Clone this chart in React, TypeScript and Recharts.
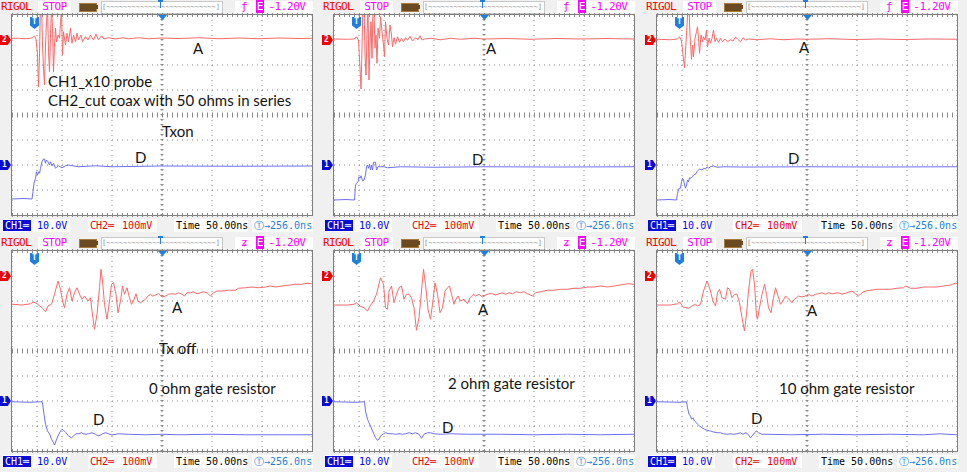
import { LineChart, Line, XAxis, YAxis, CartesianGrid, ReferenceLine } from "recharts";

type Pt = [number, number];

// time in ns relative to trigger: 50ns/div, 12 div, trigger offset 256ns
const timeTicks = [-44, 6, 56, 106, 156, 206, 256, 306, 356, 406, 456, 506, 556];
// CH2: 100mV/div, marker at +3 div  -> screen -700..100 mV
const ch2Ticks = [-700, -600, -500, -400, -300, -200, -100, 0, 100];
// CH1: 10V/div, marker at -2 div -> screen -20..60 V
const ch1Ticks = [-20, -10, 0, 10, 20, 30, 40, 50, 60];

// ---- Tx on (top row), CH2 in mV ----
const onR0Ch2: Pt[] = [
  [-44, 7], [-31, 7], [-17, 5], [-7, 7], [-3, 9], [1, 17], [4, 4], [7, -60], [9, -187], [11, -60],
  [13, 150], [15, 150], [17, -20], [19, -113], [21, -180], [23, -20], [25, 73], [27, 140], [29, -47],
  [31, -127], [33, 20], [35, 130], [37, 47], [39, -127], [41, -20], [43, 47], [45, -7], [48, 20], [51, 7],
  [53, 73], [55, 120], [57, -60], [59, 33], [63, -20], [66, 27], [69, -7], [73, 47], [76, -13], [79, 20],
  [83, -7], [86, 27], [89, 0], [94, 20], [97, -7], [103, 13], [108, 0], [113, 20], [119, 0], [124, 23],
  [129, 1], [135, 17], [140, 4], [149, 9], [163, 4], [176, 9], [189, 5], [209, 9], [229, 5], [256, 8],
  [290, 6], [330, 9], [370, 5], [410, 8], [450, 5], [490, 8], [530, 6], [556, 7],
];
const onR2Ch2: Pt[] = [
  [-44, 4], [-17, 3], [-3, 4], [1, 13], [5, 0], [8, -113], [10, -196], [12, -33], [14, 150], [16, 150],
  [18, -60], [20, -140], [22, 20], [24, 130], [26, -160], [28, -20], [30, 73], [32, -73], [34, 130],
  [36, 120], [38, -33], [40, 20], [42, -93], [44, 47], [47, 7], [49, 93], [52, 33], [55, -20], [57, -67],
  [59, 73], [62, 7], [65, -20], [68, 60], [71, 20], [73, -27], [76, 9], [79, -17], [83, 13], [87, -9],
  [91, 7], [95, -7], [99, 9], [103, -1], [108, 15], [113, -4], [119, 9], [124, 1], [128, 17], [132, 0],
  [137, 4], [149, 7], [169, 1], [189, 7], [209, 3], [236, 7], [256, 4], [300, 6], [350, 3], [400, 6],
  [450, 4], [500, 6], [556, 4],
];
const onR10Ch2: Pt[] = [
  [-44, 3], [-17, 1], [-3, 4], [1, 13], [5, -4], [8, -60], [11, -111], [13, -47], [16, 60], [18, 130],
  [20, 130], [22, 20], [25, -77], [27, -20], [29, -67], [32, 7], [35, 33], [37, 53], [39, 7], [41, -53],
  [44, 20], [47, -7], [49, 13], [52, 0], [55, 40], [57, -27], [60, 7], [63, -13], [66, 7], [69, 40],
  [72, -7], [75, 7], [79, -9], [83, 7], [87, -7], [92, 4], [97, -7], [103, 1], [108, -4], [113, 12],
  [117, 4], [123, -7], [128, 9], [133, 0], [139, 4], [156, 1], [183, 5], [209, 1], [236, 4], [256, 3],
  [300, 5], [350, 2], [400, 4], [450, 2], [500, 4], [556, 3],
];

// ---- Tx on, CH1 in V ----
const onR0Ch1: Pt[] = [
  [-44, -13.6], [-20, -13.4], [-4, -13.6], [-2, -10.7], [0, -7.3], [3, -5.3], [5, -2.7], [7, -4], [9, -2.7],
  [11, -3.3], [13, -1.3], [16, 1.3], [19, 2.4], [21, 2.4], [23, 0.7], [25, 2], [28, 1.3], [31, 0], [33, 1.3],
  [36, -0.3], [39, 0.7], [43, -1.3], [46, -0.7], [49, -0.3], [56, -1.1], [63, -0.3], [69, 0], [89, -0.7],
  [123, -0.3], [156, -0.7], [256, -0.4], [400, -0.5], [556, -0.4],
];
const onR2Ch1: Pt[] = [
  [-44, -14], [-20, -13.8], [-3, -14], [-1, -8], [1, -7.3], [4, -6.7], [6, -4.7], [8, -5.3], [10, -4.3],
  [13, -6.3], [16, -6], [19, -4], [21, -0.7], [23, 0], [25, -1.3], [27, 0.3], [29, -2], [31, 0], [33, -2],
  [35, 1.1], [39, 1.1], [41, -2], [44, -0.7], [49, -0.7], [56, -0.7], [63, -1.1], [89, -0.7], [156, -0.9],
  [256, -0.7], [400, -0.8], [556, -0.7],
];
const onR10Ch1: Pt[] = [
  [-44, -14], [-20, -13.8], [-5, -14], [-3, -11.3], [0, -9.3], [3, -9.3], [5, -6.7], [7, -5.3], [9, -6],
  [11, -8], [13, -9.3], [15, -8], [17, -6], [19, -6.7], [21, -5.1], [24, -5.3], [27, -4.7], [29, -4],
  [33, -3.7], [36, -2.7], [39, -2], [41, -1.6], [46, -2], [49, -1.3], [53, -1.6], [56, -0.7], [59, -1.3],
  [63, -0.7], [69, -0.4], [76, -0.9], [89, -0.7], [123, -0.8], [156, -0.8], [256, -0.7], [400, -0.8], [556, -0.7],
];

// ---- Tx off (bottom row), CH2 in mV ----
const offR0Ch2: Pt[] = [
  [-44, -113], [-24, -116], [-7, -111], [-1, -104], [6, -111], [16, -127], [23, -143], [28, -120], [35, -113],
  [41, -73], [48, -20], [53, -53], [57, -100], [61, -127], [66, -73], [71, -47], [76, -100], [81, -67],
  [86, -47], [91, -73], [96, -93], [101, -80], [108, -100], [113, -87], [116, -140], [121, -213], [126, -153],
  [131, -47], [134, 27], [137, -20], [141, -113], [146, -173], [151, -100], [155, -33], [159, -27], [164, -73],
  [168, -147], [173, -100], [177, -40], [181, -73], [186, -47], [191, -87], [195, -113], [199, -100],
  [204, -71], [208, -100], [213, -107], [218, -100], [223, -93], [228, -80], [233, -73], [237, -80],
  [243, -76], [249, -71], [256, -84], [263, -80], [269, -73], [276, -71], [283, -73], [289, -67], [296, -73],
  [301, -80], [306, -67], [313, -67], [319, -63], [326, -71], [333, -67], [339, -63], [346, -67], [353, -80],
  [359, -67], [366, -60], [376, -60], [389, -57], [403, -57], [409, -49], [423, -47], [436, -44], [449, -47],
  [463, -44], [473, -40], [483, -44], [496, -40], [509, -37], [523, -33], [536, -33], [546, -29], [556, -31],
];
const offR2Ch2: Pt[] = [
  [-44, -116], [-17, -116], [-4, -113], [1, -107], [8, -120], [16, -127], [23, -140], [28, -120], [35, -100],
  [41, -73], [49, -7], [55, -33], [59, -127], [63, -133], [66, -60], [71, -40], [76, -107], [81, -73],
  [86, -47], [91, -40], [96, -93], [101, -73], [106, -73], [111, -87], [116, -127], [121, -217], [126, -167],
  [131, -60], [135, 27], [139, -33], [144, -133], [149, -173], [153, -113], [158, -27], [163, -73],
  [168, -147], [173, -127], [178, -60], [183, -47], [187, -40], [191, -73], [196, -113], [200, -93],
  [204, -80], [209, -100], [216, -93], [223, -111], [228, -87], [235, -73], [239, -80], [246, -73],
  [253, -84], [259, -76], [266, -71], [273, -71], [279, -76], [286, -71], [293, -67], [299, -73], [306, -67],
  [313, -71], [321, -63], [329, -67], [336, -63], [343, -71], [353, -80], [359, -67], [369, -63], [383, -57],
  [396, -57], [409, -53], [423, -53], [436, -49], [449, -49], [463, -44], [476, -44], [489, -40], [503, -44],
  [516, -40], [529, -36], [543, -31], [556, -33],
];
const offR10Ch2: Pt[] = [
  [-44, -116], [-17, -116], [-3, -111], [1, -103], [8, -124], [19, -129], [26, -120], [33, -113], [37, -120],
  [43, -113], [49, -60], [56, -20], [61, -47], [68, -100], [73, -120], [77, -67], [81, -53], [86, -87],
  [93, -93], [97, -47], [101, -53], [106, -87], [111, -73], [116, -73], [121, -107], [126, -167], [131, -220],
  [135, -153], [139, -60], [144, 20], [147, 27], [151, -33], [155, -160], [157, -173], [161, -127],
  [166, -73], [171, -33], [175, -73], [179, -127], [184, -147], [189, -87], [193, -47], [197, -73],
  [203, -113], [208, -100], [213, -80], [217, -87], [223, -100], [226, -107], [231, -93], [235, -87],
  [239, -80], [246, -84], [253, -80], [259, -73], [266, -80], [273, -73], [279, -71], [286, -67], [293, -73],
  [299, -67], [306, -71], [319, -67], [326, -73], [336, -67], [346, -60], [353, -71], [359, -80], [366, -67],
  [373, -60], [383, -57], [396, -53], [409, -53], [423, -53], [436, -49], [449, -47], [453, -40], [463, -49],
  [476, -49], [489, -44], [503, -44], [516, -44], [529, -40], [543, -36], [553, -29], [556, -31],
];

// ---- Tx off, CH1 in V ----
const offR0Ch1: Pt[] = [
  [-44, -0.3], [-10, -0.5], [16, -0.3], [17, -0.7], [20, -5.3], [23, -9.3], [27, -12], [31, -13.1],
  [35, -15.3], [39, -16.7], [41, -17.6], [44, -16], [48, -14], [53, -12], [56, -11.3], [59, -11.7],
  [64, -12.7], [69, -14], [75, -14.7], [79, -14], [84, -13.1], [89, -13.1], [95, -12.7], [99, -13.1],
  [104, -13.3], [109, -13.1], [116, -12.7], [123, -13.3], [128, -14], [133, -13.6], [137, -13.1],
  [143, -12.7], [149, -13.1], [156, -13.6], [169, -13.1], [189, -13.3], [223, -13.5], [256, -13.3],
  [289, -13.5], [356, -13.3], [423, -13.5], [489, -13.5], [556, -13.5],
];
const offR2Ch1: Pt[] = [
  [-44, -0.3], [0, -0.5], [17, -0.3], [19, -4], [23, -7.3], [26, -8.7], [29, -10], [33, -12], [36, -13.3],
  [39, -14.7], [43, -15.7], [46, -15.3], [49, -14], [55, -13.1], [59, -12.7], [66, -13.1], [73, -13.1],
  [79, -13.3], [86, -13.1], [93, -13.3], [99, -13.1], [106, -12.7], [113, -13.1], [119, -12.7], [126, -13.3],
  [131, -14.9], [136, -13.3], [143, -12.7], [149, -12.7], [156, -13.1], [169, -13.3], [189, -13.1],
  [223, -13.3], [289, -13.3], [356, -13.5], [423, -13.3], [489, -13.5], [556, -13.3],
];
const offR10Ch1: Pt[] = [
  [-44, -0.3], [0, -0.5], [15, -0.3], [17, -2.7], [20, -5.3], [23, -6], [25, -7.3], [28, -6.7], [31, -8],
  [35, -8.7], [37, -9.3], [41, -10], [46, -10.7], [51, -11.3], [56, -11.7], [63, -12], [69, -12.4],
  [76, -12.7], [83, -12.7], [89, -13.1], [96, -13.3], [103, -13.1], [109, -13.3], [116, -13.1], [123, -12.7],
  [128, -13.3], [133, -12.7], [137, -13.1], [143, -14.7], [146, -14], [151, -12.7], [155, -12], [159, -12.7],
  [166, -13.3], [176, -13.3], [223, -13.5], [289, -13.3], [356, -13.5], [423, -13.3], [489, -13.5],
  [523, -13.1], [536, -13.3], [556, -13.5],
];

type Note = { text: string; x: number; y: number };

const panels = [
  {
    left: 0, top: 0, rising: true, ch1: onR0Ch1, ch2: onR0Ch2,
    notes: [
      { text: "A", x: 193, y: 48 },
      { text: "CH1_x10 probe", x: 48, y: 81 },
      { text: "CH2_cut coax with 50 ohms in series", x: 48, y: 100 },
      { text: "Txon", x: 162, y: 131 },
      { text: "D", x: 135, y: 157 },
    ] as Note[],
  },
  {
    left: 322, top: 0, rising: true, ch1: onR2Ch1, ch2: onR2Ch2,
    notes: [
      { text: "A", x: 164, y: 48 },
      { text: "D", x: 150, y: 159 },
    ] as Note[],
  },
  {
    left: 645, top: 0, rising: true, ch1: onR10Ch1, ch2: onR10Ch2,
    notes: [
      { text: "A", x: 154, y: 47 },
      { text: "D", x: 143, y: 158 },
    ] as Note[],
  },
  {
    left: 0, top: 236, rising: false, ch1: offR0Ch1, ch2: offR0Ch2,
    notes: [
      { text: "A", x: 172, y: 71 },
      { text: "Tx off", x: 159, y: 112 },
      { text: "0 ohm gate resistor", x: 149, y: 152 },
      { text: "D", x: 93, y: 183 },
    ] as Note[],
  },
  {
    left: 322, top: 236, rising: false, ch1: offR2Ch1, ch2: offR2Ch2,
    notes: [
      { text: "A", x: 156, y: 73 },
      { text: "2 ohm gate resistor", x: 126, y: 147 },
      { text: "D", x: 120, y: 191 },
    ] as Note[],
  },
  {
    left: 645, top: 236, rising: false, ch1: offR10Ch1, ch2: offR10Ch2,
    notes: [
      { text: "A", x: 162, y: 74 },
      { text: "10 ohm gate resistor", x: 134, y: 152 },
      { text: "D", x: 106, y: 182 },
    ] as Note[],
  },
];

const mono = '"DejaVu Sans Mono", monospace';
const abs = (l: number, t: number, extra: any = {}) => ({ position: "absolute" as const, left: l, top: t, ...extra });
const blue = "#1e7fe0";

const TopBar = ({ rising }: { rising: boolean }) => (
  <>
    <div style={abs(1, 0, { color: "#ff0000", font: `11px ${mono}`, lineHeight: "14px", letterSpacing: -0.6 })}>RIGOL</div>
    <div style={abs(38, 1, { width: 33, height: 12, background: "#fff", color: "#ff00ff", font: `11px ${mono}`, lineHeight: "12px", textAlign: "center", letterSpacing: -0.5 })}>STOP</div>
    <div style={abs(79, 3, { width: 16, height: 7, background: "#6b4a22", border: "1px solid #a87a3e" })} />
    <div style={abs(96, 5, { width: 2, height: 4, background: "#6b4a22" })} />
    <div style={abs(101, 1, { width: 120, height: 11, background: "#fff", border: "1px solid #c8c8c8", color: "#8a8a8a", font: `7px ${mono}`, lineHeight: "11px", overflow: "hidden", whiteSpace: "nowrap" })}>
      [~~~~~~~~~~~~~~~~~~~~~~~~~~]
    </div>
    {/* overview trigger mark */}
    <div style={abs(158, 0, { width: 5, height: 2, background: blue })} />
    <div style={abs(160, 2, { width: 1, height: 6, background: blue })} />
    <div style={abs(235, 1, { width: 78, height: 12, background: "#fff", color: "#ff00ff", font: `11px ${mono}`, lineHeight: "12px", whiteSpace: "nowrap" })}>
      <span style={{ marginLeft: 6 }}>{rising ? "ƒ" : "ʑ"}</span>
      <span style={{ marginLeft: 8, background: "#ff00ff", color: "#fff", padding: "0 1px" }}>E</span>
      <span style={{ marginLeft: 4, letterSpacing: -0.4 }}>-1.20V</span>
    </div>
  </>
);

const StatusBar = () => (
  <>
    <div style={abs(3, 219, { width: 67, height: 13, background: "#fff", font: `10px ${mono}`, lineHeight: "13px", whiteSpace: "nowrap" })}>
      <span style={{ background: "#0a0ad8", color: "#fff", padding: "0 2px" }}>CH1═</span>
      <span style={{ color: "#0000ff", marginLeft: 6 }}>10.0V</span>
    </div>
    <div style={abs(88, 219, { width: 69, height: 13, background: "#fff", color: "#ee0000", font: `10px ${mono}`, lineHeight: "13px", whiteSpace: "nowrap" })}>
      <span style={{ marginLeft: 2 }}>CH2═</span>
      <span style={{ marginLeft: 8 }}>100mV</span>
    </div>
    <div style={abs(174, 219, { width: 74, height: 13, background: "#fff", color: "#000", font: `10px ${mono}`, lineHeight: "13px", whiteSpace: "nowrap" })}>
      <span style={{ marginLeft: 2 }}>Time 50.00ns</span>
    </div>
    <div style={abs(252, 219, { width: 61, height: 13, background: "#fff", color: blue, font: `10px ${mono}`, lineHeight: "13px", whiteSpace: "nowrap" })}>
      <span style={{ marginLeft: 2 }}>Ⓣ→256.0ns</span>
    </div>
  </>
);

const Tag = ({ label, color, y }: { label: string; color: string; y: number }) => (
  <div style={abs(0, y - 5, {
    width: 11, height: 10, background: color, color: "#fff", font: `bold 8px ${mono}`, lineHeight: "10px",
    paddingLeft: 2, boxSizing: "border-box", clipPath: "polygon(0 0, 70% 0, 100% 50%, 70% 100%, 0 100%)",
  })}>{label}</div>
);

const Scope = ({ p }: { p: (typeof panels)[number] }) => (
  <div style={abs(p.left, p.top, { width: 322, height: 236, background: "#f0f0f0", overflow: "hidden" })}>
    <TopBar rising={p.rising} />
    <div style={abs(11, 14, { width: 300, height: 200, border: "1px solid #7d7d7d", background: "#fff" })} />
    <div style={abs(10, 13)}>
      <LineChart width={304} height={204} margin={{ top: 2, right: 2, bottom: 2, left: 2 }}>
        <XAxis type="number" dataKey="t" domain={[-44, 556]} ticks={timeTicks} hide allowDataOverflow />
        <YAxis type="number" domain={[-700, 100]} ticks={ch2Ticks} hide allowDataOverflow />
        <YAxis yAxisId="ch1" type="number" domain={[-20, 60]} ticks={ch1Ticks} hide allowDataOverflow />
        <CartesianGrid stroke="#8a8a8a" strokeDasharray="1 4" />
        <ReferenceLine y={-300} stroke="#8a8a8a" strokeWidth={5} strokeDasharray="1 4" />
        <ReferenceLine x={256} stroke="#8a8a8a" strokeWidth={3} strokeDasharray="1 4" />
        <ReferenceLine y={100} stroke="#8a8a8a" strokeWidth={4} strokeDasharray="1 4" />
        <ReferenceLine y={-700} stroke="#8a8a8a" strokeWidth={4} strokeDasharray="1 4" />
        <Line data={p.ch2.map(([t, v]) => ({ t, v }))} dataKey="v" type="linear" stroke="#fa6a6a"
          strokeWidth={1} dot={false} activeDot={false} isAnimationActive={false} />
        <Line data={p.ch1.map(([t, v]) => ({ t, v }))} dataKey="v" yAxisId="ch1" type="linear" stroke="#6f6ff2"
          strokeWidth={1} dot={false} activeDot={false} isAnimationActive={false} />
      </LineChart>
    </div>
    {/* trigger position + centre markers */}
    <div style={abs(30, 17, {
      width: 9, height: 12, background: blue, color: "#fff", font: `bold 8px ${mono}`, lineHeight: "9px",
      textAlign: "center", clipPath: "polygon(0 0, 100% 0, 100% 70%, 50% 100%, 0 70%)",
    })}>T</div>
    <div style={abs(158, 15, { width: 9, height: 5, background: blue, clipPath: "polygon(0 0, 100% 0, 50% 100%)" })} />
    <Tag label="2" color="#ee0000" y={40} />
    <Tag label="1" color="#0a0ad8" y={165} />
    {p.notes.map((n) => (
      <div key={n.text} style={abs(n.x, n.y - 9, {
        font: '15px Lato, "Open Sans", sans-serif', lineHeight: "18px", color: "#151515", whiteSpace: "nowrap",
      })}>{n.text}</div>
    ))}
    <StatusBar />
  </div>
);

export default function App() {
  return (
    <div style={{ position: "absolute", left: 0, top: 0, width: 967, height: 472, background: "#f0f0f0" }}>
      {panels.map((p, i) => <Scope key={i} p={p} />)}
    </div>
  );
}
